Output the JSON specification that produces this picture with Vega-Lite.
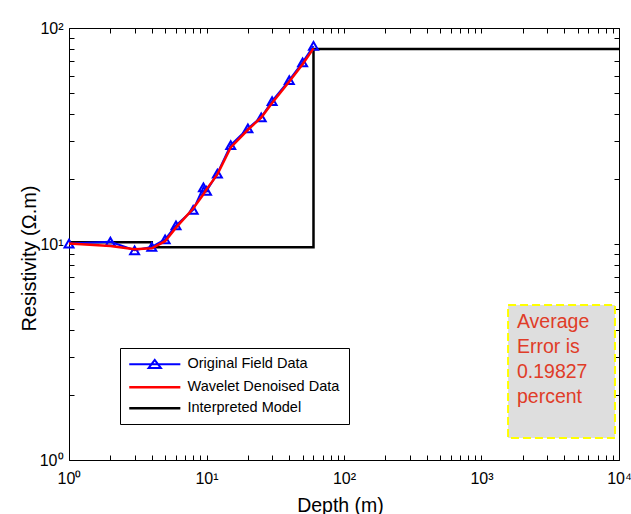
{
  "$schema": "https://vega.github.io/schema/vega-lite/v6.json",
  "width": 550,
  "height": 432,
  "autosize": {"type": "none"},
  "padding": {"left": 69, "top": 28, "right": 12, "bottom": 54},
  "background": "white",
  "config": {
    "font": "Liberation Sans",
    "view": {"stroke": "black", "strokeWidth": 1},
    "axis": {
      "domain": false,
      "tickColor": "black", "tickWidth": 1, "tickSize": 5,
      "grid": false,
      "labelColor": "black", "labelFontSize": 16, "labelFont": "Liberation Sans",
      "titleColor": "black", "titleFontWeight": "normal", "titleFont": "Liberation Sans", "titleFontSize": 19.5,
      "labelFlush": false, "labelOverlap": false, "labelBound": false
    }
  },
  "datasets": {
    "model": [
      {"d": 1, "r": 10.2, "i": 0, "s": "Interpreted Model"},
      {"d": 4, "r": 10.2, "i": 1, "s": "Interpreted Model"},
      {"d": 4, "r": 9.66, "i": 2, "s": "Interpreted Model"},
      {"d": 60, "r": 9.66, "i": 3, "s": "Interpreted Model"},
      {"d": 60, "r": 80, "i": 4, "s": "Interpreted Model"},
      {"d": 10000, "r": 80, "i": 5, "s": "Interpreted Model"}
    ],
    "field": [
      {"d": 1, "r": 10.05}, {"d": 2, "r": 10.25}, {"d": 3, "r": 9.35}, {"d": 4, "r": 9.7},
      {"d": 5, "r": 10.5}, {"d": 6, "r": 12.2}, {"d": 8, "r": 14.4}, {"d": 9.5, "r": 18.3},
      {"d": 10, "r": 17.6}, {"d": 12, "r": 21.2}, {"d": 15, "r": 28.7}, {"d": 20, "r": 34.3},
      {"d": 25, "r": 38.6}, {"d": 30, "r": 45.9}, {"d": 40, "r": 57.4}, {"d": 50, "r": 69.4},
      {"d": 60, "r": 82.6}
    ],
    "denoised": [
      {"d": 1, "r": 10.05}, {"d": 2, "r": 9.8}, {"d": 3, "r": 9.45}, {"d": 4, "r": 9.55},
      {"d": 5, "r": 10.3}, {"d": 6, "r": 11.9}, {"d": 8, "r": 14.6}, {"d": 9.5, "r": 17.0},
      {"d": 10, "r": 17.9}, {"d": 12, "r": 21.0}, {"d": 15, "r": 28.0}, {"d": 20, "r": 33.8},
      {"d": 25, "r": 38.5}, {"d": 30, "r": 45.0}, {"d": 40, "r": 56.5}, {"d": 50, "r": 68.0},
      {"d": 60, "r": 80.5}
    ],
    "box": [{"x1": 1560, "x2": 9350, "y1": 1.264, "y2": 5.22}],
    "note": [{"x": 1811, "y": 4.77, "t": "Average|Error is|0.19827|percent"}]
  },
  "layer": [
    {
      "data": {"name": "model"},
      "mark": {"type": "line", "strokeWidth": 2.5},
      "encoding": {
        "x": {
          "field": "d", "type": "quantitative",
          "scale": {"type": "log", "domain": [1, 10000]},
          "axis": {
            "orient": "bottom",
            "values": [1, 10, 100, 1000, 10000],
            "ticks": false, "tickSize": 0,
            "labelExpr": "datum.value == 1 ? '10⁰' : datum.value == 10 ? '10¹' : datum.value == 100 ? '10²' : datum.value == 1000 ? '10³' : datum.value == 10000 ? '10⁴' : ''",
            "labelPadding": 10,
            "title": "Depth (m)",
            "titleX": 271, "titleY": 51, "titleBaseline": "alphabetic"
          }
        },
        "y": {
          "field": "r", "type": "quantitative",
          "scale": {"type": "log", "domain": [1, 100]},
          "axis": {
            "orient": "left",
            "values": [1, 10, 100],
            "ticks": false, "tickSize": 0,
            "labelExpr": "datum.value == 1 ? '10⁰' : datum.value == 10 ? '10¹' : datum.value == 100 ? '10²' : ''",
            "labelPadding": 6,
            "title": "Resistivity (Ω.m)",
            "titleFontSize": 20,
            "titleX": -34, "titleY": 230, "titleBaseline": "alphabetic"
          }
        },
        "order": {"field": "i"},
        "color": {
          "field": "s", "type": "nominal",
          "scale": {"domain": ["Original Field Data", "Wavelet Denoised Data", "Interpreted Model"], "range": ["#0000ff", "#ff0000", "#000000"]},
          "legend": {
            "orient": "none", "legendX": 51, "legendY": 320,
            "title": null,
            "strokeColor": "black", "fillColor": "white", "padding": 9, "cornerRadius": 0,
            "symbolSize": 196, "symbolStrokeWidth": 2.5, "symbolType": "M-1,0H6.3",
            "symbolFillColor": "transparent",
            "labelOffset": 44, "labelFontSize": 14.5, "labelColor": "black", "labelFont": "Liberation Sans",
            "rowPadding": 6, "labelLimit": 400,
            "encode": {
              "symbols": {
                "update": {
                  "fill": {"value": "transparent"},
                  "strokeWidth": {"signal": "datum.value === 'Original Field Data' ? 2 : 2.5"},
                  "shape": {"signal": "datum.value === 'Original Field Data' ? 'M-1,0H6.3M1.76,0.55L2.64,-0.62L3.52,0.55Z' : 'M-1,0H6.3'"}
                }
              }
            }
          }
        }
      }
    },
    {
      "data": {"name": "field"},
      "mark": {"type": "line", "stroke": "#0000ff", "strokeWidth": 2},
      "encoding": {
        "x": {
          "field": "d", "type": "quantitative",
          "scale": {"type": "log", "domain": [1, 10000]},
          "axis": {
            "orient": "top", "offset": -5,
            "values": [1,2,3,4,5,6,7,8,9,10,20,30,40,50,60,70,80,90,100,200,300,400,500,600,700,800,900,1000,2000,3000,4000,5000,6000,7000,8000,9000,10000],
            "labels": false, "title": null
          }
        },
        "y": {
          "field": "r", "type": "quantitative",
          "scale": {"type": "log", "domain": [1, 100]},
          "axis": {
            "orient": "right", "offset": -5,
            "values": [1,2,3,4,5,6,7,8,9,10,20,30,40,50,60,70,80,90,100],
            "labels": false, "title": null
          }
        }
      }
    },
    {
      "data": {"name": "field"},
      "mark": {"type": "point", "shape": "triangle-up", "filled": false, "stroke": "#0000ff", "strokeWidth": 2, "size": 80, "opacity": 1},
      "encoding": {
        "x": {
          "field": "d", "type": "quantitative",
          "scale": {"type": "log", "domain": [1, 10000]},
          "axis": {
            "orient": "bottom", "offset": -5,
            "values": [1,2,3,4,5,6,7,8,9,10,20,30,40,50,60,70,80,90,100,200,300,400,500,600,700,800,900,1000,2000,3000,4000,5000,6000,7000,8000,9000,10000],
            "labels": false, "title": null
          }
        },
        "y": {
          "field": "r", "type": "quantitative",
          "scale": {"type": "log", "domain": [1, 100]},
          "axis": {
            "orient": "left", "offset": -5,
            "values": [1,2,3,4,5,6,7,8,9,10,20,30,40,50,60,70,80,90,100],
            "labels": false, "title": null
          }
        }
      }
    },
    {
      "data": {"name": "denoised"},
      "mark": {"type": "line", "stroke": "#ff0000", "strokeWidth": 2.5},
      "encoding": {
        "x": {"field": "d", "type": "quantitative", "scale": {"type": "log", "domain": [1, 10000]}, "axis": null},
        "y": {"field": "r", "type": "quantitative", "scale": {"type": "log", "domain": [1, 100]}, "axis": null}
      }
    },
    {
      "data": {"name": "box"},
      "mark": {"type": "rect", "fill": "#dedede", "stroke": "#ffff00", "strokeWidth": 2, "strokeDash": [8, 4]},
      "encoding": {
        "x": {"field": "x1", "type": "quantitative", "scale": {"type": "log", "domain": [1, 10000]}, "axis": null},
        "x2": {"field": "x2"},
        "y": {"field": "y1", "type": "quantitative", "scale": {"type": "log", "domain": [1, 100]}, "axis": null},
        "y2": {"field": "y2"}
      }
    },
    {
      "data": {"name": "note"},
      "mark": {"type": "text", "align": "left", "baseline": "top", "fontSize": 19.5, "font": "Liberation Sans", "color": "#e03c28", "lineBreak": "|", "lineHeight": 25},
      "encoding": {
        "x": {"field": "x", "type": "quantitative", "scale": {"type": "log", "domain": [1, 10000]}, "axis": null},
        "y": {"field": "y", "type": "quantitative", "scale": {"type": "log", "domain": [1, 100]}, "axis": null},
        "text": {"field": "t", "type": "nominal"}
      }
    }
  ],
  "resolve": {"axis": {"x": "independent", "y": "independent"}}
}
